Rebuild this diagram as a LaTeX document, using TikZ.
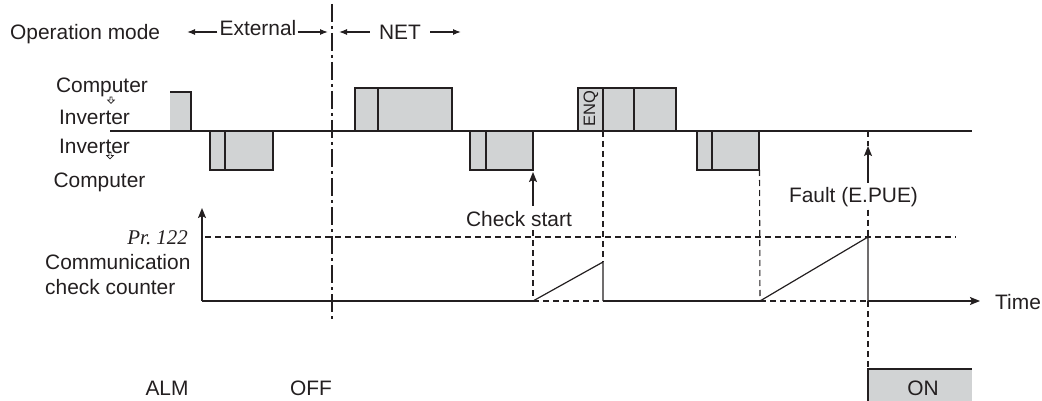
\documentclass[tikz,border=0pt]{standalone}
\usepackage{fontspec}
\setmainfont{Liberation Sans}
\newfontfamily\prfont{Liberation Serif}
\usetikzlibrary{arrows.meta}
\usetikzlibrary{positioning}

\begin{document}
\begin{tikzpicture}[x=1pt, y=-1pt, >={Stealth[length=10pt,width=8pt,inset=2pt]}, line cap=butt, line join=miter]

	% Colors (print-like ink + light gray frames)
	\definecolor{inkA}{RGB}{35,31,32}
	\definecolor{grayA}{RGB}{209,211,212}

	\tikzset{
		lab/.style={inner sep=0pt, text=inkA, font=\fontsize{20.9}{25}\selectfont},
		small/.style={inner sep=0pt, text=inkA, font=\fontsize{16.5}{18}\selectfont},
		hollow/.style={draw=inkA, line width=0.7pt, fill=white, line join=miter},
		sig/.style={draw=inkA, line width=1.2pt},
		frame/.style={draw=inkA, line width=1.5pt, fill=grayA},
		guide/.style={draw=inkA, line width=1.1pt, dash pattern=on 6pt off 4pt},
		modeline/.style={draw=inkA, line width=1.1pt, dash pattern=on 18pt off 4pt on 3pt off 4pt},
		arrowK/.style={->, draw=inkA, line width=1.4pt},
		arrowH/.style={-{Latex[length=8pt,width=6pt]}, draw=inkA, line width=1.2pt},
	}

	\useasboundingbox (0,0) rectangle (1042,401);

	% --- Top: operation mode
	\node[lab, anchor=base west] (opmode) at (10,40) {Operation mode};
	\node[lab, anchor=base] (ext) at (258,36) {External};
	\node[lab, anchor=base] (net) at (400,40) {NET};
	\coordinate (extL) at (187,32);
	\coordinate (extR) at (328,32);
	\coordinate (netL) at (339,32);
	\coordinate (netR) at (461,32);
	\draw[arrowH] (ext.west |- extL) ++(-2,0) -- (extL);
	\draw[arrowH] (ext.east |- extR) ++(1,0) -- (extR);
	\draw[arrowH] (net.west |- netL) ++(-9,0) -- (netL);
	\draw[arrowH] (net.east |- netR) ++(9,0) -- (netR);

	% mode change
	\coordinate (modeT) at (332,4);
	\coordinate (modeB) at (332,320);
	\draw[modeline] (modeT) -- (modeB);

	% --- Left labels
	\node[lab, anchor=base] (comp1) at (102,93) {Computer};
	\node[lab, anchor=base] (inv1) at (94.5,125) {Inverter};
	\node[lab, anchor=base] (inv2) at (94.5,154) {Inverter};
	\node[lab, anchor=base] (comp2) at (99.5,187) {Computer};
	% small hollow arrows (direction of transfer)
	\foreach \ax/\ay in {111/100, 110/155.5}{
		\draw[hollow] (\ax-1.1,\ay-3) -- (\ax+1.1,\ay-3) -- (\ax+1.1,\ay) -- (\ax+3.3,\ay)
			-- (\ax,\ay+3.3) -- (\ax-3.3,\ay) -- (\ax-1.1,\ay) -- cycle;
	}

	% --- Message frames
	\coordinate (sigL) at (110,131);
	\coordinate (sigR) at (972,131);
	\fill[grayA] (170,92) rectangle (191,131);
	\draw[frame, fill=none] (170,92) -| (191,131);
	\foreach \xa/\xm/\xb in {355/378/452, 578/634/676}{
		\draw[frame] (\xa,88) rectangle (\xb,131);
		\draw[frame] (\xm,88) -- (\xm,131);
	}
	\draw[frame] (603,88) -- (603,131);
	\node[small, rotate=90] (enq) at (591,109) {ENQ};
	\foreach \xa/\xm/\xb in {210/225/273, 470/486/533, 697/712/759}{
		\draw[frame] (\xa,131) rectangle (\xb,170);
		\draw[frame] (\xm,131) -- (\xm,170);
	}
	\draw[sig] (sigL) -- (sigR);

	% --- Communication check counter
	\node[lab, anchor=base east, font=\prfont\itshape\fontsize{20.9}{25}\selectfont] (pr) at (188,244) {Pr.~122};
	\node[lab, anchor=base west] (comm) at (45,269) {Communication};
	\node[lab, anchor=base west] (cnt) at (45,294) {check counter};

	\coordinate (orig) at (202,301);
	\coordinate (ytop) at (202,208);
	\coordinate (cs) at (533,301);
	\coordinate (r1) at (603,262);
	\coordinate (r1b) at (603,301);
	\coordinate (r2s) at (760,301);
	\coordinate (r2t) at (868,237);
	\coordinate (r2b) at (868,301);
	\coordinate (tEnd) at (980,301);

	\draw[guide] (205,237) -- (956,237);
	\draw[arrowK] (orig) -- (ytop);
	\draw[sig] (orig) -- (cs);
	\draw[guide] (cs) -- (r1b);
	\draw[sig] (r1b) -- (r2s);
	\draw[guide] (r2s) -- (r2b);
	\draw[arrowK] (r2b) -- (tEnd);
	\node[lab, anchor=base west] (time) at (995,309) {Time};

	\draw[sig] (cs) -- (r1) -- (r1b);
	\draw[sig] (r2s) -- (r2t) -- (r2b);

	% --- Check start / fault
	\node[lab, anchor=base] (check) at (519,226) {Check start};
	\node[lab, anchor=base] (fault) at (853.5,202) {Fault (E.PUE)};
	\coordinate (csTip) at (533,172);
	\coordinate (ftTip) at (868,146);
	\draw[arrowK] ([yshift=5pt]check.north -| csTip) -- (csTip);
	\draw[arrowK] ([yshift=4pt]fault.north -| ftTip) -- (ftTip);
	\draw[guide] ([yshift=-4pt]check.south -| cs) -- (cs);
	\draw[guide] (603,131) -- (r1);
	\draw[guide] (759.5,170) -- (r2s);
	\draw[guide] (868,131) -- (ftTip);
	\draw[guide] ([yshift=-3pt]fault.south -| r2t) -- (r2t);

	% --- Bottom: ALM output
	\coordinate (onTL) at (868,369);
	\fill[grayA] (onTL) rectangle (972,401);
	\draw[frame, fill=none] (868,401) -- (onTL) -- (972,369);
	\draw[guide] (r2b) -- (onTL);
	\node[lab, anchor=base] (alm) at (167,395) {ALM};
	\node[lab, anchor=base] (off) at (311,395) {OFF};
	\node[lab, anchor=base] (on) at (923,395) {ON};

\end{tikzpicture}
\end{document}
